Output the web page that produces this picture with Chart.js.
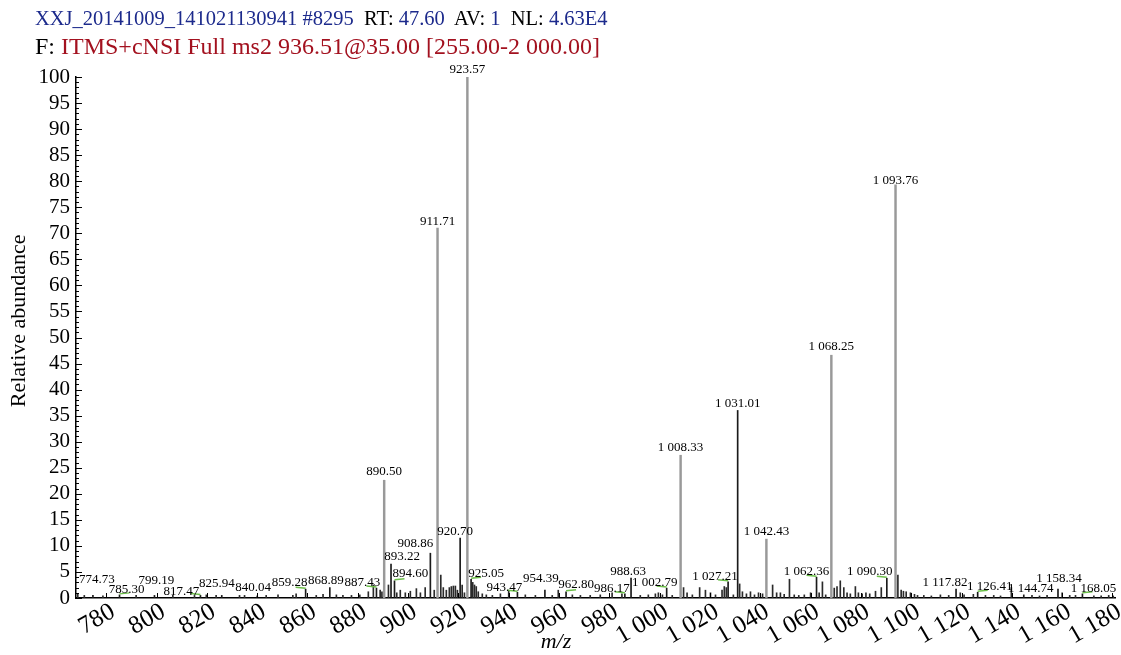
<!DOCTYPE html>
<html>
<head>
<meta charset="utf-8">
<script src="https://cdn.jsdelivr.net/npm/chart.js@4.4.1/dist/chart.umd.min.js"></script>
<style>
  html, body { margin: 0; padding: 0; background: #fff; }
  #wrap { position: relative; width: 1121px; height: 655px; overflow: hidden; }
  #head { position: absolute; left: 35px; top: 5px; z-index: 2; font-family: "Liberation Serif", serif; color: #000; white-space: pre; }
  #head .l1 { font-size: 20.5px; line-height: 27px; }
  #head .l2 { font-size: 24px; line-height: 29px; }
  .b { color: #1c2a8c; }
  .r { color: #a3111f; }
  canvas { position: absolute; left: 0; top: 0; }
</style>
</head>
<body>
<div id="wrap">
  <div id="head"><div class="l1"><span class="b">XXJ_20141009_141021130941 #8295</span>  RT: <span class="b">47.60</span>  AV: <span class="b">1</span>  NL: <span class="b">4.63E4</span></div><div class="l2">F: <span class="r">ITMS+cNSI Full ms2 936.51@35.00 [255.00-2 000.00]</span></div></div>
  <canvas id="spec" width="1121" height="655"></canvas>
</div>
<script>
/* MS2 spectrum, scan #8295 */

// labelled peaks: m/z and relative abundance (%)
const peakMz = [774.73, 785.30, 799.19, 817.47, 825.94, 840.04, 859.28, 868.89, 887.43, 890.50,
  893.22, 894.60, 908.86, 911.71, 920.70, 923.57, 925.05, 943.47, 954.39, 962.80,
  986.17, 988.63, 1002.79, 1008.33, 1027.21, 1031.01, 1042.43, 1062.36, 1068.25, 1090.30,
  1093.76, 1117.82, 1126.41, 1144.74, 1158.34, 1168.05];
const peakInt = [0.5, 0.6, 0.5, 0.5, 0.5, 0.4, 1.7, 2.0, 1.9, 22.6,
  6.5, 3.3, 8.6, 71.0, 11.5, 100, 3.6, 1.1, 1.5, 1.2,
  0.8, 3.8, 1.9, 27.4, 3.1, 36.0, 11.3, 4.0, 46.6, 3.8,
  79.3, 1.7, 1.1, 0.6, 1.7, 0.8];

// unlabelled small peaks
const noiseMz = [768.7, 771.3, 778.7, 791.9, 806.5, 815.1, 819.8, 823.7, 833.0, 835.0,
  843.6, 848.3, 854.2, 855.5, 863.5, 866.2, 871.5, 874.1, 877.5, 880.8,
  884.2, 886.2, 888.9, 889.6, 892.2, 895.5, 896.9, 898.9, 900.9, 903.3,
  904.9, 906.8, 910.4, 913.0, 914.0, 915.2, 916.4, 917.2, 918.0, 918.8,
  919.6, 921.5, 922.4, 925.7, 926.4, 927.1, 927.9, 929.5, 931.1, 933.5,
  936.7, 940.0, 946.6, 950.6, 957.3, 959.7, 965.3, 968.5, 972.4, 976.4,
  981.1, 985.0, 992.3, 995.5, 998.3, 999.5, 1001.1, 1005.0, 1009.5, 1010.9,
  1013.0, 1015.9, 1018.2, 1020.2, 1022.2, 1024.8, 1025.7, 1026.5, 1029.3, 1031.8,
  1032.9, 1034.5, 1036.1, 1037.7, 1039.3, 1040.9, 1044.9, 1046.5, 1048.0, 1049.5,
  1051.6, 1053.5, 1055.3, 1057.5, 1060.0, 1063.4, 1064.7, 1066.0, 1069.4, 1070.5,
  1071.8, 1073.2, 1074.5, 1075.8, 1077.8, 1079.0, 1080.5, 1082.0, 1083.5, 1085.8,
  1088.1, 1094.7, 1096.0, 1096.9, 1098.0, 1099.7, 1101.3, 1102.5, 1105.0, 1108.0,
  1111.6, 1114.9, 1119.5, 1121.0, 1124.7, 1129.5, 1132.8, 1135.5, 1139.8, 1148.0,
  1151.0, 1154.0, 1160.0, 1163.0, 1165.3, 1172.6, 1175.5, 1178.5, 1180.3];
const noiseInt = [0.8, 0.5, 0.4, 0.5, 0.5, 0.5, 0.6, 0.5, 0.5, 0.5,
  0.5, 0.6, 0.5, 0.8, 0.5, 0.7, 0.6, 0.5, 0.5, 0.6,
  1.2, 2.5, 1.5, 1.2, 2.5, 1.0, 1.5, 1.0, 1.3, 1.8,
  1.0, 2.0, 1.5, 4.4, 2.0, 1.5, 2.0, 2.2, 2.3, 2.3,
  1.5, 2.5, 1.0, 3.0, 2.5, 2.2, 1.2, 0.8, 0.6, 0.5,
  0.8, 1.5, 0.6, 0.5, 0.5, 1.5, 0.6, 0.5, 0.5, 0.6,
  1.0, 0.8, 0.5, 0.6, 0.8, 1.0, 0.6, 0.5, 2.0, 1.0,
  0.6, 2.0, 1.5, 1.0, 0.6, 1.5, 2.2, 2.0, 0.6, 2.7,
  1.2, 0.8, 1.2, 0.6, 1.0, 0.8, 2.5, 1.0, 1.0, 0.7,
  3.6, 0.6, 0.5, 0.6, 1.0, 1.0, 3.1, 0.6, 1.9, 2.2,
  3.3, 2.0, 1.0, 0.8, 2.2, 1.0, 0.8, 1.0, 0.8, 1.3,
  2.0, 4.4, 1.5, 1.3, 1.2, 1.0, 0.7, 0.5, 0.5, 0.4,
  0.6, 0.5, 1.0, 0.6, 0.7, 0.5, 0.5, 0.4, 2.0, 0.5,
  0.4, 0.5, 1.0, 0.5, 0.5, 0.4, 0.4, 0.5, 0.4];

// where each peak label sits: height (abundance units) and sideways shift (px)
const labelLevel = [3.45, 1.54, 3.26, 1.15, 2.69, 1.92, 2.88, 3.26, 2.88, 24.2,
  7.87, 4.61, 10.36, 72.2, 12.67, 101.5, 4.61, 1.92, 3.65, 2.5,
  1.73, 4.99, 2.88, 28.8, 4.03, 37.4, 12.67, 4.99, 48.2, 4.99,
  80.2, 2.88, 2.11, 1.73, 3.65, 1.73];
const labelShift = [4, 7, 2, -19, -5, -4, -16, -4, -14, 0,
  11, 16, -15, 0, -5, 0, 15, -13, -4, 10,
  -13, -3, -12, 0, -13, 0, 0, -10, 0, -17,
  0, -11, 12, 7, 1, 11];

// peaks marked with a green hook
const hooked = [785.30, 817.47, 859.28, 887.43, 894.60, 925.05, 943.47, 962.80, 986.17,
  1002.79, 1027.21, 1062.36, 1090.30, 1126.41, 1168.05];
// peaks drawn as wider grey sticks
const greyPeaks = [890.50, 911.71, 923.57, 1008.33, 1042.43, 1068.25, 1093.76];

const X_MIN = 768, X_MAX = 1181, X_STEP = 20;
const Y_MIN = 0, Y_MAX = 100, Y_STEP = 5;

const SERIF = '"Liberation Serif", "Times New Roman", serif';

function spaced(s) {
  const parts = String(s).split(".");
  parts[0] = parts[0].replace(/\B(?=(\d{3})+(?!\d))/g, " ");
  return parts.join(".");
}

const decor = {
  id: "decor",
  afterDraw(chart) {
    const { ctx, chartArea: a, scales: { x, y } } = chart;
    ctx.save();

    // inward tick marks
    ctx.strokeStyle = "#000";
    ctx.lineWidth = 1;
    for (let v = Y_MIN; v <= Y_MAX; v++) {
      const py = Math.round(y.getPixelForValue(v)) + 0.5;
      const len = v % Y_STEP === 0 ? 6 : 3;
      ctx.beginPath(); ctx.moveTo(a.left, py); ctx.lineTo(a.left + len, py); ctx.stroke();
    }
    x.ticks.forEach(t => {
      const px = Math.round(x.getPixelForValue(t.value)) + 0.5;
      ctx.beginPath(); ctx.moveTo(px, a.bottom); ctx.lineTo(px, a.bottom - 5); ctx.stroke();
    });

    // green hooks
    ctx.strokeStyle = "#6cbf4a";
    ctx.lineWidth = 1.5;
    hooked.forEach(m => {
      const i = peakMz.indexOf(m);
      const px = x.getPixelForValue(m);
      const py = y.getPixelForValue(peakInt[i]) - 1;
      const dir = labelShift[i] > 0 ? 1 : -1;
      ctx.beginPath(); ctx.moveTo(px, py); ctx.lineTo(px + dir * 10, py - 1); ctx.stroke();
    });

    // peak labels
    ctx.fillStyle = "#000";
    ctx.font = "13px " + SERIF;
    ctx.textAlign = "center";
    ctx.textBaseline = "middle";
    peakMz.forEach((m, i) => {
      const px = x.getPixelForValue(m) + labelShift[i];
      const py = y.getPixelForValue(labelLevel[i]);
      ctx.fillText(spaced(m.toFixed(2)), px, py);
    });

    // axis titles
    ctx.font = "italic 22px " + SERIF;
    ctx.fillText("m/z", a.left + (a.right - a.left) * 0.462, 642);
    ctx.font = "22px " + SERIF;
    ctx.translate(19, a.top + (a.bottom - a.top) * 0.468);
    ctx.rotate(-Math.PI / 2);
    ctx.fillText("Relative abundance", 0, 0);
    ctx.restore();
  }
};

new Chart(document.getElementById("spec"), {
  type: "bar",
  data: {
    datasets: [
      {
        data: noiseMz.map((m, i) => ({ x: m, y: noiseInt[i] })),
        backgroundColor: "#2a2a2a",
        barThickness: 1,
        grouped: false
      },
      {
        data: peakMz.filter(m => greyPeaks.includes(m)).map(m => ({ x: m, y: peakInt[peakMz.indexOf(m)] })),
        backgroundColor: "#999999",
        barThickness: 1.8,
        grouped: false
      },
      {
        data: peakMz.filter(m => !greyPeaks.includes(m)).map(m => ({ x: m, y: peakInt[peakMz.indexOf(m)] })),
        backgroundColor: "#1a1a1a",
        barThickness: 1,
        grouped: false
      }
    ]
  },
  plugins: [decor],
  options: {
    responsive: false,
    animation: false,
    events: [],
    layout: { padding: { top: 77, right: 6, bottom: 0, left: 0 } },
    plugins: { legend: { display: false }, tooltip: { enabled: false } },
    scales: {
      x: {
        type: "linear",
        min: X_MIN,
        max: X_MAX,
        offset: false,
        grid: { display: false, drawTicks: false },
        border: { display: true, color: "#000", width: 1.5 },
        ticks: {
          stepSize: X_STEP,
          includeBounds: false,
          autoSkip: false,
          minRotation: 30,
          maxRotation: 30,
          padding: -1,
          labelOffset: 7,
          color: "#000",
          font: { family: SERIF, size: 25 },
          callback: v => spaced(v)
        },
        afterFit: s => { s.height = 57; s.paddingLeft = 0; s.paddingRight = 0; }
      },
      y: {
        min: Y_MIN,
        max: Y_MAX,
        grid: { display: false, drawTicks: false },
        border: { display: true, color: "#000", width: 1.5 },
        ticks: {
          stepSize: Y_STEP,
          autoSkip: false,
          padding: 6,
          color: "#000",
          font: { family: SERIF, size: 21 }
        },
        afterFit: s => { s.width = 76; s.paddingTop = 0; s.paddingBottom = 0; }
      }
    }
  }
});
</script>
</body>
</html>
